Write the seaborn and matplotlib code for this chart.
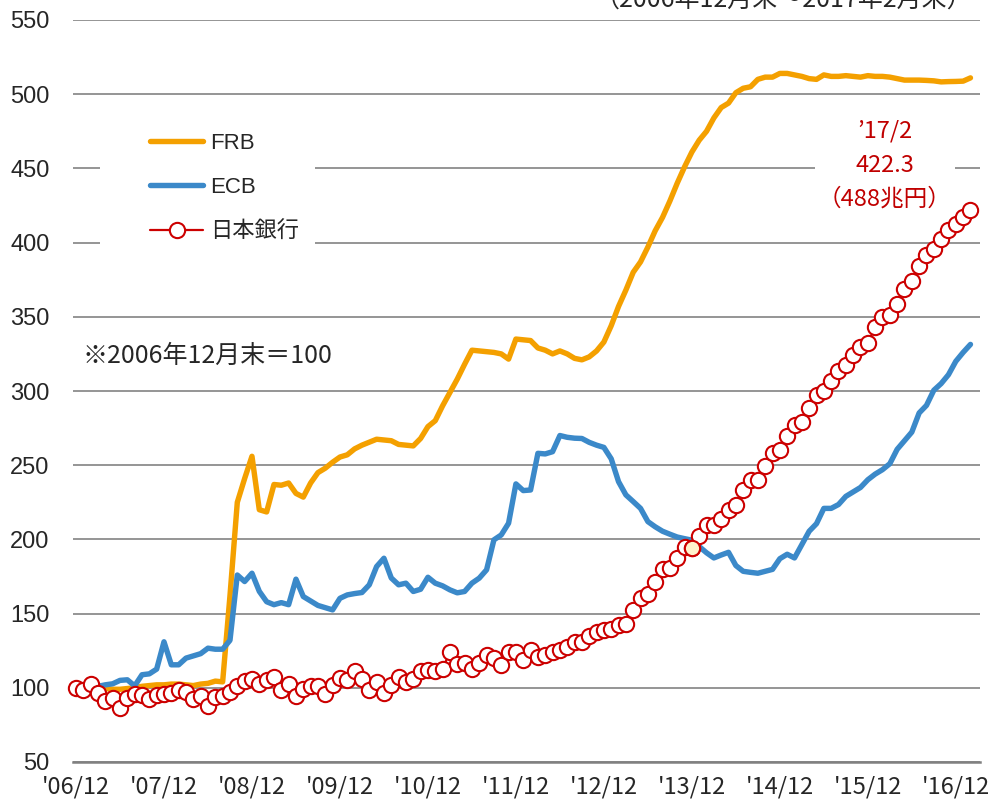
import numpy as np
import pandas as pd
import matplotlib
matplotlib.use("Agg")
import matplotlib.pyplot as plt
from matplotlib.patches import Rectangle
import seaborn as sns

# monthly, 2006/12 ... 2017/2 (index 2006/12 = 100)
months = np.arange(123)
tick_pos = list(range(0, 121, 12))
tick_labels = ["'06/12", "'07/12", "'08/12", "'09/12", "'10/12", "'11/12",
               "'12/12", "'13/12", "'14/12", "'15/12", "'16/12"]
y_ticks = list(range(50, 551, 50))

frb = [100, 99.5, 100, 100, 99.5, 99, 99, 99.5, 100, 101,
       101.5, 102, 102, 102.5, 102.5, 102, 101.5, 102.5, 103, 104.5,
       104, 162, 225, 241, 256, 220, 218.5, 237, 236.5, 238,
       231, 228.5, 238, 245, 248, 252, 255.5, 257, 261, 263.5,
       265.5, 267.5, 267, 266.5, 264, 263.5, 263, 268, 276, 280,
       290, 299, 308, 318, 327.5, 327, 326.5, 326, 325, 321.5,
       335, 334.5, 334, 329, 327.5, 325, 327, 325, 322, 321,
       323, 327, 333, 344, 357, 368, 380, 387, 397, 408,
       417, 428, 440, 451, 461, 469, 475, 484, 491, 494,
       501, 504, 505, 510, 511.5, 511.5, 514, 514, 513, 512,
       510.5, 510, 513, 512, 512, 512.5, 512, 511.5, 512.5, 512,
       512, 511.5, 510.5, 509.5, 509.5, 509.5, 509.3, 509, 508.3, 508.5,
       508.6, 508.8, 511]

ecb = [100, 100.5, 100.5, 101, 102, 102.7, 105, 105.4, 101.3, 108.8,
       109.4, 112.6, 131, 115.5, 115.5, 120, 121.5, 123, 126.7, 126,
       126, 132, 176, 171.6, 177.2, 165, 158, 156, 157.4, 156,
       173.2, 161.5, 158.5, 155.5, 154, 152.5, 160.3, 162.6, 163.5, 164.2,
       169.4, 181.7, 187.3, 174, 169.4, 170.5, 164.9, 166.4, 174.5, 170.5,
       168.7, 166, 164, 164.9, 170.5, 173.9, 179.5, 199.7, 203, 210.9,
       237.4, 232.9, 233.3, 258, 257.6, 259.1, 270, 268.8, 268.2, 268,
       265.4, 263.5, 262, 254.3, 238.9, 230, 225.5, 220.9, 212, 208.5,
       205.5, 203.5, 201.6, 200.5, 199.5, 195.2, 191, 187.5, 189.5, 191.3,
       182.4, 178.5, 177.8, 177.2, 178.5, 179.8, 187, 190, 187.5, 196.5,
       205.5, 210.6, 220.9, 220.9, 223.5, 229, 232, 235, 240.2, 244,
       247, 251, 260.7, 266.5, 272.3, 285.2, 290.3, 300.5, 305, 311,
       320, 326, 331.4]

boj = [100, 98.7, 102.5, 96.4, 90.8, 93, 86.3, 93, 96, 95.3,
       92.6, 95.3, 96, 96.8, 98.7, 97.5, 92.4, 94.6, 87.9, 93.5,
       94.6, 97.5, 101.3, 104.9, 106.1, 102.5, 105.4, 107.2, 98.7, 102.5,
       94.8, 99, 100.9, 100.9, 96, 102, 106.5, 105.4, 111, 105.9,
       98.7, 104.2, 96.8, 102, 107.2, 104.2, 105.9, 111, 112.1, 111,
       112.6, 124.4, 116, 116.6, 112.6, 116.6, 122.2, 120, 115.5, 124.4,
       124.4, 118.9, 125.6, 121, 122.2, 124.4, 125.6, 127.5, 131, 131,
       134.8, 137.4, 138.7, 139.4, 142.5, 143, 152.3, 160.5, 163, 171.3,
       179.8, 181, 187.5, 195.2, 194.4, 202.2, 209.4, 209.9, 214, 219.6,
       223.4, 233, 239.7, 240.2, 249.2, 258.2, 260.3, 269.7, 277.4, 279.3,
       288.5, 297.3, 299.8, 307, 313.4, 317.3, 324.4, 329.6, 332.2, 342.9,
       350.1, 351.2, 358.9, 368.7, 374.4, 384.1, 391.8, 395.7, 402.1, 408.5,
       412.4, 417.5, 422.3]

highlight = 84  # 2013/12

c_frb = '#F4A000'
c_ecb = '#3B89C9'
c_boj = '#CC0000'

sns.set_style("white")
plt.rcParams['font.family'] = ['Noto Sans CJK JP', 'DejaVu Sans']

W, H = 992, 801
fig = plt.figure(figsize=(W / 100, H / 100), dpi=100)
ax = fig.add_axes([73 / W, 1 - 762 / H, (980 - 73) / W, (762 - 20) / H])

sns.lineplot(x=months, y=frb, color=c_frb, lw=3.9, label='FRB', ax=ax, zorder=2)
sns.lineplot(x=months, y=ecb, color=c_ecb, lw=3.9, label='ECB', ax=ax, zorder=3)
sns.lineplot(x=months, y=boj, color=c_boj, lw=1.6, marker='o', markersize=11,
             markerfacecolor='white', markeredgecolor=c_boj, markeredgewidth=1.5,
             label='日本銀行', ax=ax, zorder=4, clip_on=False)
ax.plot(months[highlight], boj[highlight], 'o', ms=11, mfc='#FFF2CC',
        mec=c_boj, mew=1.5, zorder=5)

ax.set_xlim(-0.41, 123.3)
ax.set_ylim(50, 550)
ax.set_yticks(y_ticks)
ax.set_xticks(tick_pos, tick_labels)
ax.yaxis.grid(True, color='#8c8c8c', lw=1.3)
ax.xaxis.grid(False)
for s in ['top', 'right', 'left']:
    ax.spines[s].set_visible(False)
ax.spines['bottom'].set_color('#808080')
ax.spines['bottom'].set_linewidth(1.8)
ax.tick_params(axis='y', length=0, pad=17)
ax.tick_params(axis='x', direction='in', length=6, width=1, color='#808080', pad=10)
ax.xaxis.get_major_ticks()[0].tick1line.set_visible(False)
for t in ax.get_yticklabels():
    t.set_fontfamily(['Liberation Sans', 'DejaVu Sans'])
    t.set_fontsize(17)
for t in ax.get_xticklabels():
    t.set_fontfamily(['Liberation Sans Narrow', 'Noto Sans CJK JP'])
    t.set_fontsize(17)
ax.set_xlabel('')
ax.set_ylabel('')

# white mask behind legend (breaks the gridlines)
ax.add_patch(Rectangle((100 / W, 1 - 256 / H), 215 / W, 140 / H, transform=fig.transFigure,
                       facecolor='white', edgecolor='none', zorder=1, clip_on=False))
leg = ax.legend(loc='upper left', bbox_to_anchor=(141 / W, 1 - 124 / H),
                bbox_transform=fig.transFigure, frameon=False,
                prop={'family': ['Liberation Sans', 'Noto Sans CJK JP'], 'size': 16},
                handlelength=2.4, handletextpad=0.3, labelspacing=1.05, borderaxespad=0)

fig.text(83 / W, 1 - 356 / H, '※2006年12月末＝100', ha='left', va='center', fontsize=18)
fig.text(885 / W, 1 - 165 / H, '’17/2\n422.3\n（488兆円）', ha='center', va='center',
         fontsize=17, color='#C00000', linespacing=1.6,
         bbox=dict(facecolor='white', edgecolor='none', pad=2))
fig.text(972 / W, 1 - 7 / H, '（2006年12月末～2017年2月末）', ha='right', va='baseline', fontsize=18)

fig.savefig('out.png', dpi=100)
